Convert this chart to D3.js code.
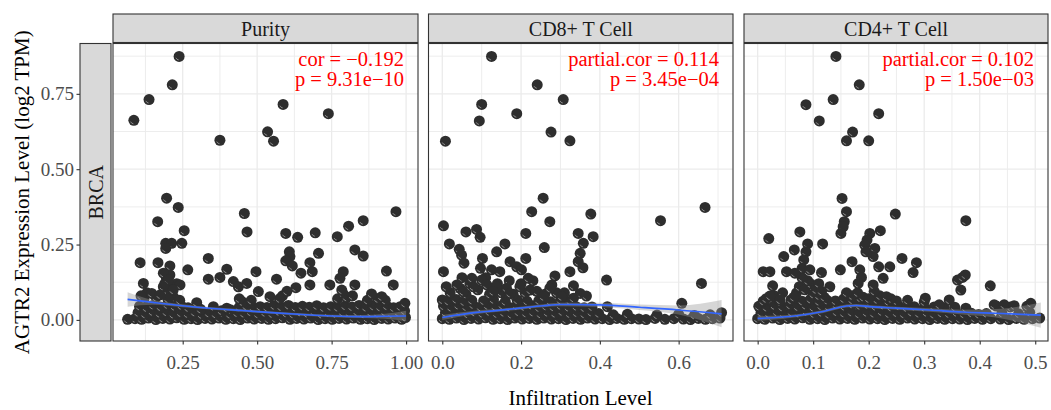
<!DOCTYPE html>
<html>
<head>
<meta charset="utf-8">
<script src="https://cdn.jsdelivr.net/npm/d3@7"></script>
<style>
  body { margin: 0; background: #fff; }
  svg { display: block; font-family: "Liberation Serif", "Times New Roman", serif; }
</style>
</head>
<body>
<svg width="1051" height="410"></svg>
<script>

var panelNames = ["Purity", "CD8+ T Cell", "CD4+ T Cell"];
var rowName = "BRCA";
var statLines = [
  ["cor = \u22120.192", "p = 9.31e\u221210"],
  ["partial.cor = 0.114", "p = 3.45e\u221204"],
  ["partial.cor = 0.102", "p = 1.50e\u221203"]
];

var yTicks = [0, 0.25, 0.5, 0.75];
var yMinor = [0.125, 0.375, 0.625, 0.875];
var purityTicks = [0.25, 0.5, 0.75, 1.0];
var purityMinor = [0.125, 0.375, 0.625, 0.875];
var cd8Ticks = [0, 0.2, 0.4, 0.6];
var cd8Minor = [0.1, 0.3, 0.5, 0.7];
var cd4Ticks = [0, 0.1, 0.2, 0.3, 0.4, 0.5];
var cd4Minor = [0.05, 0.15, 0.25, 0.35, 0.45];

// [infiltration, expression]
var purityPoints = [
  [0.090,0.004],[0.112,0.002],[0.135,0.006],[0.160,0.001],[0.183,0.005],[0.207,0.003],[0.230,0.007],[0.255,0.002],
  [0.278,0.004],[0.300,0.001],[0.325,0.005],[0.348,0.003],[0.372,0.006],[0.395,0.002],[0.420,0.004],[0.443,0.001],
  [0.468,0.006],[0.490,0.003],[0.515,0.005],[0.538,0.002],[0.562,0.004],[0.585,0.007],[0.610,0.002],[0.633,0.005],
  [0.657,0.003],[0.680,0.006],[0.705,0.001],[0.728,0.004],[0.752,0.002],[0.775,0.005],[0.800,0.003],[0.823,0.006],
  [0.847,0.002],[0.870,0.004],[0.893,0.001],[0.918,0.005],[0.940,0.003],[0.963,0.006],[0.985,0.002],[0.998,0.008],
  [0.100,0.024],[0.123,0.019],[0.148,0.027],[0.172,0.021],[0.195,0.026],[0.218,0.018],[0.243,0.023],[0.266,0.020],
  [0.290,0.025],[0.313,0.017],[0.337,0.022],[0.360,0.019],[0.383,0.024],[0.408,0.018],[0.432,0.023],[0.455,0.021],
  [0.478,0.026],[0.502,0.019],[0.526,0.024],[0.550,0.020],[0.573,0.027],[0.597,0.022],[0.620,0.019],[0.645,0.025],
  [0.668,0.021],[0.692,0.026],[0.716,0.018],[0.740,0.023],[0.763,0.020],[0.787,0.025],[0.810,0.022],[0.835,0.027],
  [0.858,0.019],[0.882,0.024],[0.905,0.021],[0.929,0.026],[0.952,0.020],[0.975,0.024],[0.995,0.030],
  [0.105,0.045],[0.128,0.040],[0.150,0.048],[0.175,0.043],[0.198,0.050],[0.222,0.044],[0.245,0.047],[0.268,0.040],
  [0.440,0.042],[0.463,0.046],[0.487,0.040],[0.510,0.044],[0.533,0.041],[0.557,0.047],[0.580,0.043],[0.605,0.048],
  [0.628,0.041],[0.652,0.045],[0.675,0.042],[0.700,0.047],[0.723,0.040],[0.747,0.044],[0.770,0.041],[0.795,0.046],
  [0.818,0.043],[0.842,0.048],[0.865,0.041],[0.890,0.045],[0.912,0.042],[0.935,0.046],[0.958,0.040],[0.980,0.044],
  [0.310,0.035],[0.380,0.030],[0.410,0.034],
  [0.195,0.140],[0.190,0.120],[0.205,0.105],[0.210,0.090],[0.230,0.120],[0.220,0.075],[0.200,0.070],[0.240,0.065],
  [0.160,0.075],[0.130,0.090],[0.120,0.070],[0.110,0.080],[0.585,0.080],[0.600,0.095],[0.575,0.070],[0.770,0.070],
  [0.790,0.085],[0.800,0.075],[0.820,0.080],[0.870,0.065],[0.905,0.070],[0.930,0.065],[0.450,0.060],[0.480,0.065],
  [0.440,0.070],
  [0.238,0.874],[0.215,0.780],[0.137,0.731],[0.086,0.662],[0.375,0.596],[0.535,0.624],[0.555,0.593],[0.587,0.715],
  [0.739,0.684],[0.196,0.404],[0.235,0.373],[0.166,0.326],[0.457,0.353],[0.466,0.292],[0.966,0.359],[0.255,0.296],
  [0.856,0.329],[0.807,0.311],[0.596,0.287],[0.636,0.274],[0.695,0.289],[0.769,0.276],[0.193,0.254],[0.213,0.254],
  [0.247,0.254],[0.193,0.237],[0.828,0.232],[0.856,0.212],[0.706,0.221],[0.608,0.226],[0.610,0.210],[0.596,0.196],
  [0.618,0.179],[0.336,0.204],[0.107,0.190],[0.167,0.190],[0.207,0.179],[0.677,0.190],[0.685,0.160],[0.934,0.162],
  [0.957,0.116],[0.267,0.166],[0.207,0.149],[0.398,0.168],[0.496,0.160],[0.375,0.141],[0.336,0.135],[0.565,0.135],
  [0.647,0.155],[0.789,0.160],[0.778,0.138],[0.744,0.116],[0.677,0.116],[0.630,0.107],[0.828,0.116],[0.420,0.127],
  [0.437,0.110],[0.465,0.121],[0.118,0.121],[0.241,0.116],[0.504,0.094],[0.884,0.086],[0.146,0.088],[0.297,0.057],
  [0.996,0.055],[0.065,0.002],[0.543,0.077],[0.784,0.099],[0.918,0.077],[0.185,0.155],[0.202,0.132],[0.185,0.110],
  [0.218,0.099],[0.174,0.083],[0.353,0.044],[0.398,0.039]
];

var cd8Points = [
  [0.000,0.004],[0.018,0.002],[0.036,0.006],[0.055,0.001],[0.073,0.005],[0.092,0.003],[0.110,0.007],[0.129,0.002],
  [0.147,0.004],[0.166,0.001],[0.184,0.006],[0.203,0.003],[0.221,0.005],[0.240,0.002],[0.258,0.006],[0.277,0.003],
  [0.295,0.004],[0.314,0.001],[0.332,0.005],[0.351,0.002],[0.369,0.006],[0.388,0.003],[0.406,0.004],[0.425,0.001],
  [0.443,0.005],[0.462,0.002],[0.480,0.004],[0.499,0.003],[0.517,0.001],[0.540,0.005],[0.565,0.002],[0.588,0.004],
  [0.612,0.003],[0.630,0.001],[0.650,0.005],[0.668,0.002],[0.686,0.004],[0.705,0.006],
  [0.008,0.024],[0.027,0.020],[0.045,0.026],[0.064,0.019],[0.082,0.025],[0.101,0.021],[0.119,0.027],[0.138,0.020],
  [0.156,0.024],[0.175,0.018],[0.193,0.026],[0.212,0.022],[0.230,0.025],[0.249,0.019],[0.267,0.024],[0.286,0.021],
  [0.304,0.027],[0.323,0.020],[0.341,0.023],[0.360,0.019],[0.378,0.025],[0.397,0.021],[0.434,0.017],[0.470,0.019],
  [0.545,0.016],[0.600,0.018],[0.640,0.015],[0.680,0.017],
  [0.003,0.046],[0.022,0.041],[0.040,0.048],[0.060,0.043],[0.078,0.050],[0.097,0.042],[0.115,0.047],[0.134,0.044],
  [0.152,0.049],[0.171,0.041],[0.189,0.046],[0.208,0.043],[0.226,0.048],[0.245,0.040],[0.263,0.045],[0.282,0.042],
  [0.300,0.047],[0.320,0.041],[0.340,0.044],[0.360,0.040],[0.380,0.043],
  [0.000,0.066],[0.015,0.062],[0.035,0.068],[0.055,0.060],[0.075,0.065],[0.105,0.063],[0.130,0.067],[0.160,0.061],
  [0.190,0.066],[0.215,0.062],[0.245,0.064],[0.275,0.060],[0.300,0.065],[0.325,0.062],
  [0.020,0.090],[0.060,0.085],[0.090,0.100],[0.120,0.085],[0.150,0.090],[0.180,0.085],[0.210,0.090],[0.240,0.095],
  [0.260,0.085],[0.290,0.090],[0.310,0.090],[0.350,0.088],[0.010,0.110],[0.045,0.105],[0.070,0.120],[0.140,0.120],
  [0.170,0.130],[0.200,0.120],[0.230,0.130],[0.110,0.140],[0.050,0.140],
  [0.125,0.874],[0.241,0.780],[0.307,0.731],[0.100,0.715],[0.189,0.684],[0.094,0.660],[0.276,0.623],[0.324,0.594],
  [0.008,0.593],[0.256,0.404],[0.227,0.359],[0.377,0.351],[0.273,0.326],[0.667,0.373],[0.554,0.329],[0.003,0.312],
  [0.060,0.292],[0.087,0.300],[0.096,0.274],[0.018,0.252],[0.212,0.287],[0.345,0.287],[0.383,0.276],[0.358,0.254],
  [0.159,0.252],[0.259,0.240],[0.043,0.234],[0.049,0.215],[0.055,0.188],[0.138,0.226],[0.350,0.221],[0.102,0.204],
  [0.097,0.171],[0.172,0.193],[0.189,0.176],[0.212,0.204],[0.345,0.193],[0.357,0.173],[0.003,0.160],[0.125,0.166],
  [0.146,0.160],[0.201,0.166],[0.075,0.138],[0.100,0.132],[0.218,0.138],[0.286,0.146],[0.324,0.160],[0.417,0.132],
  [0.658,0.121],[0.278,0.116],[0.273,0.105],[0.037,0.116],[0.079,0.110],[0.113,0.116],[0.138,0.110],[0.163,0.105],
  [0.197,0.110],[0.223,0.099],[0.333,0.113],[0.053,0.094],[0.129,0.094],[0.172,0.088],[0.257,0.077],[0.303,0.077],
  [0.333,0.072],[0.366,0.079],[0.419,0.044],[0.608,0.055],[0.709,0.024]
];

var cd4Points = [
  [0.000,0.004],[0.013,0.002],[0.027,0.006],[0.040,0.001],[0.054,0.005],[0.067,0.003],[0.081,0.007],[0.094,0.002],
  [0.108,0.004],[0.121,0.001],[0.135,0.006],[0.148,0.003],[0.162,0.005],[0.175,0.002],[0.189,0.006],[0.202,0.003],
  [0.216,0.004],[0.229,0.001],[0.243,0.005],[0.256,0.002],[0.270,0.006],[0.283,0.003],[0.297,0.004],[0.310,0.001],
  [0.324,0.005],[0.337,0.002],[0.351,0.004],[0.364,0.003],[0.378,0.001],[0.391,0.005],[0.405,0.002],[0.420,0.004],
  [0.437,0.003],[0.452,0.001],[0.466,0.005],[0.480,0.002],[0.495,0.004],[0.508,0.006],
  [0.006,0.024],[0.020,0.020],[0.034,0.026],[0.047,0.019],[0.061,0.025],[0.074,0.021],[0.088,0.027],[0.101,0.020],
  [0.115,0.024],[0.128,0.018],[0.142,0.026],[0.155,0.022],[0.169,0.025],[0.182,0.019],[0.196,0.024],[0.209,0.021],
  [0.223,0.027],[0.236,0.020],[0.250,0.023],[0.263,0.019],[0.277,0.025],[0.290,0.021],[0.304,0.024],[0.317,0.018],
  [0.331,0.022],[0.344,0.020],[0.358,0.024],[0.371,0.019],[0.385,0.022],[0.398,0.018],[0.412,0.021],[0.440,0.022],
  [0.470,0.020],[0.490,0.025],
  [0.002,0.045],[0.016,0.041],[0.030,0.047],[0.044,0.042],[0.058,0.049],[0.072,0.043],[0.086,0.048],[0.100,0.041],
  [0.114,0.046],[0.128,0.043],[0.142,0.049],[0.156,0.044],[0.170,0.052],[0.184,0.047],[0.198,0.050],[0.212,0.044],
  [0.226,0.048],[0.240,0.042],[0.254,0.046],[0.268,0.040],[0.282,0.044],[0.300,0.041],[0.318,0.043],[0.336,0.040],
  [0.355,0.042],[0.375,0.039],[0.430,0.046],[0.455,0.043],[0.485,0.045],
  [0.010,0.062],[0.040,0.060],[0.060,0.066],[0.080,0.062],[0.095,0.068],[0.110,0.061],[0.125,0.065],[0.140,0.063],
  [0.155,0.070],[0.170,0.066],[0.185,0.072],[0.200,0.064],[0.215,0.067],[0.235,0.061],[0.250,0.063],
  [0.070,0.090],[0.075,0.110],[0.085,0.100],[0.095,0.120],[0.100,0.085],[0.065,0.075],[0.110,0.080],[0.090,0.130],
  [0.080,0.140],[0.120,0.075],[0.030,0.080],[0.015,0.070],[0.170,0.080],[0.180,0.090],[0.190,0.075],[0.200,0.070],
  [0.220,0.080],[0.240,0.070],[0.045,0.090],[0.105,0.100],[0.160,0.090],[0.210,0.095],[0.270,0.065],[0.300,0.060],
  [0.110,0.120],[0.130,0.110],[0.115,0.095],
  [0.141,0.874],[0.183,0.780],[0.136,0.731],[0.087,0.714],[0.218,0.684],[0.111,0.660],[0.171,0.623],[0.160,0.594],
  [0.200,0.594],[0.152,0.403],[0.160,0.359],[0.156,0.326],[0.154,0.309],[0.150,0.287],[0.248,0.351],[0.375,0.329],
  [0.221,0.296],[0.202,0.287],[0.197,0.265],[0.193,0.248],[0.195,0.226],[0.211,0.237],[0.208,0.210],[0.076,0.292],
  [0.020,0.270],[0.090,0.252],[0.117,0.252],[0.066,0.232],[0.087,0.226],[0.083,0.199],[0.080,0.171],[0.047,0.210],
  [0.260,0.204],[0.286,0.190],[0.280,0.157],[0.170,0.193],[0.218,0.176],[0.238,0.176],[0.184,0.166],[0.187,0.141],
  [0.181,0.121],[0.149,0.166],[0.226,0.138],[0.208,0.116],[0.010,0.160],[0.022,0.160],[0.052,0.160],[0.067,0.155],
  [0.094,0.166],[0.115,0.157],[0.027,0.113],[0.360,0.132],[0.369,0.141],[0.374,0.149],[0.366,0.099],[0.419,0.113],
  [0.302,0.072],[0.345,0.066],[0.040,0.066],[0.022,0.079],[0.492,0.055],[0.426,0.050],[0.444,0.050],[0.462,0.047],
  [0.232,0.077],[0.327,0.050]
];

// loess fit: [x, fit, lower, upper]
var puritySmooth = [
  [0.065,0.068,0.044,0.092],[0.15,0.058,0.050,0.066],[0.25,0.047,0.042,0.052],[0.35,0.038,0.034,0.042],
  [0.45,0.031,0.027,0.035],[0.55,0.024,0.020,0.028],[0.65,0.018,0.014,0.022],[0.75,0.013,0.009,0.017],
  [0.85,0.011,0.006,0.016],[0.93,0.012,0.004,0.020],[1.00,0.013,-0.004,0.030]
];
var cd8Smooth = [
  [0.0,0.008,0.000,0.016],[0.087,0.025,0.019,0.031],[0.13,0.030,0.025,0.035],[0.197,0.039,0.034,0.044],
  [0.256,0.047,0.042,0.052],[0.30,0.051,0.045,0.057],[0.40,0.050,0.043,0.057],[0.50,0.042,0.033,0.051],
  [0.60,0.033,0.018,0.048],[0.709,0.020,-0.024,0.066]
];
var cd4Smooth = [
  [0.0,0.005,-0.003,0.013],[0.07,0.014,0.009,0.019],[0.118,0.028,0.023,0.033],[0.160,0.046,0.041,0.051],
  [0.178,0.048,0.043,0.053],[0.202,0.044,0.039,0.049],[0.25,0.039,0.034,0.044],[0.31,0.033,0.027,0.039],
  [0.369,0.026,0.018,0.034],[0.429,0.022,0.008,0.036],[0.51,0.016,-0.026,0.058]
];

var svg = d3.select("svg"),
    top0 = 43.5, bottom0 = 341,
    stripTop = 14;

var y = d3.scaleLinear().domain([-0.07, 0.917]).range([bottom0, top0]);

var panels = [
  {name: panelNames[0], points: purityPoints, smooth: puritySmooth, domain: [0.016, 1.04], left: 113, right: 418,
   ticks: purityTicks, minor: purityMinor, fmt: d3.format(".2f"), stat: statLines[0]},
  {name: panelNames[1], points: cd8Points, smooth: cd8Smooth, domain: [-0.035, 0.738], left: 428.5, right: 733,
   ticks: cd8Ticks, minor: cd8Minor, fmt: d3.format(".1f"), stat: statLines[1]},
  {name: panelNames[2], points: cd4Points, smooth: cd4Smooth, domain: [-0.0246, 0.523], left: 744, right: 1048,
   ticks: cd4Ticks, minor: cd4Minor, fmt: d3.format(".1f"), stat: statLines[2]}
];

panels.forEach(function(p, i) {
  var x = d3.scaleLinear().domain(p.domain).range([p.left, p.right]);
  var g = svg.append("g");

  g.append("clipPath").attr("id", "clip" + i)
    .append("rect")
      .attr("x", p.left).attr("y", top0)
      .attr("width", p.right - p.left).attr("height", bottom0 - top0);

  g.append("rect")
      .attr("x", p.left).attr("y", top0)
      .attr("width", p.right - p.left).attr("height", bottom0 - top0)
      .attr("fill", "#fff");

  // grid
  g.selectAll(".ymin").data(yMinor).enter().append("line")
      .attr("x1", p.left).attr("x2", p.right)
      .attr("y1", function(d) { return y(d); }).attr("y2", function(d) { return y(d); })
      .attr("stroke", "#ebebeb").attr("stroke-width", 0.9);
  g.selectAll(".xmin").data(p.minor).enter().append("line")
      .attr("y1", top0).attr("y2", bottom0)
      .attr("x1", function(d) { return x(d); }).attr("x2", function(d) { return x(d); })
      .attr("stroke", "#ebebeb").attr("stroke-width", 0.9);
  g.selectAll(".ymaj").data(yTicks).enter().append("line")
      .attr("x1", p.left).attr("x2", p.right)
      .attr("y1", function(d) { return y(d); }).attr("y2", function(d) { return y(d); })
      .attr("stroke", "#ebebeb").attr("stroke-width", 1.3);
  g.selectAll(".xmaj").data(p.ticks).enter().append("line")
      .attr("y1", top0).attr("y2", bottom0)
      .attr("x1", function(d) { return x(d); }).attr("x2", function(d) { return x(d); })
      .attr("stroke", "#ebebeb").attr("stroke-width", 1.3);

  var plot = g.append("g").attr("clip-path", "url(#clip" + i + ")");

  var pt = plot.selectAll(".pt").data(p.points).enter().append("g")
      .attr("transform", function(d) { return "translate(" + x(d[0]) + "," + y(d[1]) + ")"; });
  pt.append("circle")
      .attr("r", 5.5)
      .attr("fill", "#2e2e2e");
  pt.append("path")
      .attr("d", "M-0.4,3.5A3.5,3.5 0 0 1 -3.2,1.3")
      .attr("fill", "none")
      .attr("stroke", "#fff")
      .attr("stroke-width", 0.7)
      .attr("opacity", 0.6);

  var area = d3.area()
      .curve(d3.curveMonotoneX)
      .x(function(d) { return x(d[0]); })
      .y0(function(d) { return y(d[2]); })
      .y1(function(d) { return y(d[3]); });
  var line = d3.line()
      .curve(d3.curveMonotoneX)
      .x(function(d) { return x(d[0]); })
      .y(function(d) { return y(d[1]); });

  plot.append("path").datum(p.smooth)
      .attr("d", area)
      .attr("fill", "#999999")
      .attr("opacity", 0.4);
  plot.append("path").datum(p.smooth)
      .attr("d", line)
      .attr("fill", "none")
      .attr("stroke", "#3366ff")
      .attr("stroke-width", 1.6);

  g.append("rect")
      .attr("x", p.left).attr("y", top0)
      .attr("width", p.right - p.left).attr("height", bottom0 - top0)
      .attr("fill", "none").attr("stroke", "#333").attr("stroke-width", 1.1);

  // strip
  g.append("rect")
      .attr("x", p.left).attr("y", stripTop)
      .attr("width", p.right - p.left).attr("height", top0 - stripTop - 1)
      .attr("fill", "#d9d9d9").attr("stroke", "#333").attr("stroke-width", 1.1);
  g.append("text")
      .attr("x", (p.left + p.right) / 2).attr("y", (stripTop + top0) / 2)
      .attr("dy", "0.35em")
      .attr("text-anchor", "middle")
      .attr("font-size", 20)
      .attr("fill", "#1a1a1a")
      .text(p.name);

  // stats
  g.selectAll(".stat").data(p.stat).enter().append("text")
      .attr("x", p.right - 14)
      .attr("y", function(d, j) { return 66 + j * 20; })
      .attr("text-anchor", "end")
      .attr("font-size", 20.5)
      .attr("fill", "#ff0000")
      .text(function(d) { return d; });

  // x axis
  var ax = g.append("g")
      .attr("transform", "translate(0," + bottom0 + ")")
      .call(d3.axisBottom(x).tickValues(p.ticks).tickFormat(p.fmt).tickSize(3.5).tickPadding(11))
      .attr("font-family", null)
      .attr("font-size", 19);
  ax.select(".domain").remove();
  ax.selectAll("line").attr("stroke", "#333").attr("stroke-width", 1.1);
  ax.selectAll("text").attr("fill", "#4d4d4d");
});

// row strip
svg.append("rect")
    .attr("x", 80).attr("y", top0)
    .attr("width", 31).attr("height", bottom0 - top0)
    .attr("fill", "#d9d9d9").attr("stroke", "#333").attr("stroke-width", 1.1);
svg.append("text")
    .attr("transform", "translate(95.5," + (top0 + bottom0) / 2 + ") rotate(-90)")
    .attr("dy", "0.35em")
    .attr("text-anchor", "middle")
    .attr("font-size", 20)
    .attr("fill", "#1a1a1a")
    .text(rowName);

var ay = svg.append("g")
    .attr("transform", "translate(80,0)")
    .call(d3.axisLeft(y).tickValues(yTicks).tickFormat(d3.format(".2f")).tickSize(3.5).tickPadding(2.5))
    .attr("font-family", null)
    .attr("font-size", 19);
ay.select(".domain").remove();
ay.selectAll("line").attr("stroke", "#333").attr("stroke-width", 1.1);
ay.selectAll("text").attr("fill", "#4d4d4d");

svg.append("text")
    .attr("transform", "translate(22," + (top0 + bottom0) / 2 + ") rotate(-90)")
    .attr("dy", "0.35em")
    .attr("text-anchor", "middle")
    .attr("font-size", 21)
    .text("AGTR2 Expression Level (log2 TPM)");

svg.append("text")
    .attr("x", (113 + 1048) / 2)
    .attr("y", 405)
    .attr("text-anchor", "middle")
    .attr("font-size", 21)
    .text("Infiltration Level");

</script>
</body>
</html>
